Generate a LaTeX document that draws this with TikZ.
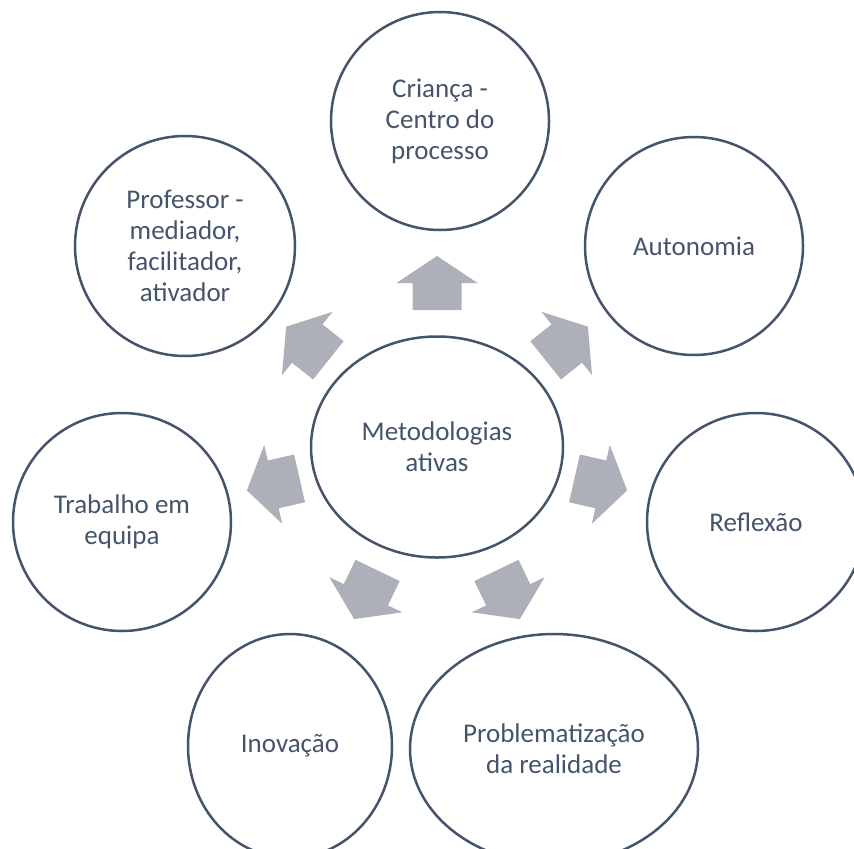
\documentclass[tikz,border=0pt]{standalone}
\usepackage{fontspec}
\setmainfont{Carlito}
\usepackage{xcolor}
\usetikzlibrary{shapes,positioning}
\definecolor{slate}{HTML}{44546A}
\definecolor{arrowgray}{HTML}{ADB0B8}

\begin{document}
\begin{tikzpicture}[
    x=0.5pt, y=0.5pt,
    bubble/.style={circle, draw=slate, line width=1.25pt, minimum size=109pt, inner sep=0pt, align=center, text=slate, font=\fontsize{13.5}{15.5}\selectfont},
    oval/.style={bubble, ellipse},
    blockarrow/.style={fill=arrowgray},
]
    \useasboundingbox (0,0) rectangle (854,848);
    \clip (0,0) rectangle (854,848);

    \node[oval, minimum width=126pt, minimum height=110.5pt] (meta) at (437,401) {Metodologias\\ativas};

    \node[bubble] (crianca) at (440,727) {Criança -\\Centro do\\processo};
    \node[bubble] (autonomia) at (694,602) {Autonomia};
    \node[bubble] (reflexao) at (756,326) {Reflexão};
    \node[oval, minimum width=144pt, minimum height=115pt] (problema) at (554,99) {Problematização\\da realidade};
    \node[oval, minimum width=102pt, minimum height=112pt] (inovacao) at (290,102) {Inovação};
    \node[bubble] (equipa) at (122,326) {Trabalho em\\equipa};
    \node[bubble, minimum size=110pt] (professor) at (185,602) {Professor -\\mediador,\\facilitador,\\ativador};

    % block arrows pointing out of the centre
    \fill[blockarrow, shift={(meta)}, shift={(90:164)}, rotate=90] (-27,-24.5) -| (0,-40.5) -- (27,0) -- (0,40.5) |- (-27,24.5) -- cycle;
    \fill[blockarrow, shift={(meta)}, shift={(38.57:166)}, rotate=38.57] (-27,-24.5) -| (0,-40.5) -- (27,0) -- (0,40.5) |- (-27,24.5) -- cycle;
    \fill[blockarrow, shift={(meta)}, shift={(-12.86:168)}, rotate=-12.86] (-27,-24.5) -| (0,-40.5) -- (27,0) -- (0,40.5) |- (-27,24.5) -- cycle;
    \fill[blockarrow, shift={(meta)}, shift={(-64.29:164)}, rotate=-64.29] (-27,-24.5) -| (0,-40.5) -- (27,0) -- (0,40.5) |- (-27,24.5) -- cycle;
    \fill[blockarrow, shift={(meta)}, shift={(-115.71:164)}, rotate=-115.71] (-27,-24.5) -| (0,-40.5) -- (27,0) -- (0,40.5) |- (-27,24.5) -- cycle;
    \fill[blockarrow, shift={(meta)}, shift={(-167.14:168)}, rotate=-167.14] (-27,-24.5) -| (0,-40.5) -- (27,0) -- (0,40.5) |- (-27,24.5) -- cycle;
    \fill[blockarrow, shift={(meta)}, shift={(141.43:166)}, rotate=141.43] (-27,-24.5) -| (0,-40.5) -- (27,0) -- (0,40.5) |- (-27,24.5) -- cycle;
\end{tikzpicture}
\end{document}
